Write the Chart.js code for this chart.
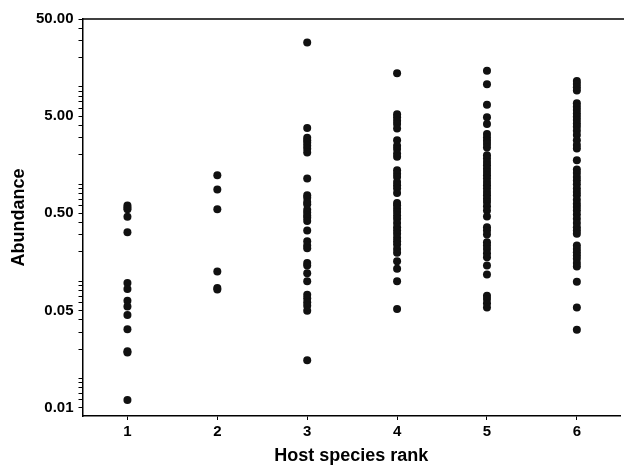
<!DOCTYPE html>
<html>
<head>
<meta charset="utf-8">
<script src="https://cdn.jsdelivr.net/npm/chart.js@4/dist/chart.umd.min.js"></script>
<style>
  html, body { margin: 0; padding: 0; background: #fff; }
  #wrap { width: 624px; height: 465px; }
</style>
</head>
<body>
<div id="wrap"><canvas id="chart"></canvas></div>
<script>
// abundância por posição do hospedeiro
const hostRanks = [1, 2, 3, 4, 5, 6];

const rank1 = [0.6, 0.57, 0.55, 0.46, 0.32, 0.096, 0.083, 0.063, 0.055, 0.045, 0.032, 0.019, 0.0185, 0.006];
const rank2 = [1.23, 0.88, 0.55, 0.126, 0.085, 0.082];
const rank3 = [28.7, 3.77, 3.0, 2.83, 2.66, 2.48, 2.31, 2.11, 1.14, 0.766, 0.725, 0.654, 0.619, 0.545, 0.511,
  0.476, 0.45, 0.416, 0.333, 0.258, 0.233, 0.219, 0.154, 0.145, 0.121, 0.1, 0.0727, 0.0666, 0.0606, 0.056,
  0.0497, 0.0154];
const rank4 = [13.8, 5.22, 4.86, 4.49, 4.15, 3.74, 2.83, 2.48, 2.29, 2.06, 1.91, 1.39, 1.28, 1.18, 1.05, 0.972,
  0.898, 0.81, 0.638, 0.604, 0.558, 0.515, 0.476, 0.44, 0.397, 0.36, 0.333, 0.308, 0.28, 0.258, 0.239, 0.215,
  0.196, 0.161, 0.134, 0.1, 0.0517];
const rank5 = [14.7, 10.65, 6.57, 4.86, 4.15, 3.27, 3.02, 2.79, 2.58, 2.38, 1.98, 1.83, 1.69, 1.56, 1.44, 1.33,
  1.23, 1.14, 1.05, 0.97, 0.9, 0.83, 0.766, 0.708, 0.654, 0.59, 0.536, 0.465, 0.36, 0.333, 0.303, 0.252, 0.233,
  0.215, 0.194, 0.177, 0.145, 0.117, 0.071, 0.0656, 0.0592, 0.0538];
const rank6 = [11.5, 10.7, 9.92, 9.16, 6.78, 6.26, 5.78, 5.34, 4.94, 4.56, 4.21, 3.89, 3.54, 3.19, 2.83, 2.52,
  2.32, 1.76, 1.41, 1.3, 1.18, 1.09, 0.995, 0.898, 0.83, 0.766, 0.69, 0.628, 0.58, 0.536, 0.487, 0.44, 0.397,
  0.36, 0.333, 0.308, 0.233, 0.215, 0.199, 0.184, 0.17, 0.154, 0.142, 0.099, 0.0538, 0.0316];

const yMajorTicks = [0.005, 0.05, 0.5, 5, 50];
const yTickLabels = ['0.01', '0.05', '0.50', '5.00', '50.00'];

const FONT = "'Liberation Sans', Arial, sans-serif";

function buildPoints() {
  const cols = [rank1, rank2, rank3, rank4, rank5, rank6];
  const pts = [];
  cols.forEach((vals, i) => {
    vals.forEach((v) => pts.push({ x: hostRanks[i], y: v }));
  });
  return pts;
}

// ticks menores do eixo log (1..9 x 10^k)
function logMinorTicks(min, max) {
  const out = [];
  for (let k = -3; k <= 2; k++) {
    for (let n = 1; n <= 9; n++) {
      const v = n * Math.pow(10, k);
      if (v >= min && v <= max) out.push({ value: v });
    }
  }
  return out;
}

const topLine = {
  id: 'topLine',
  afterDraw(chart) {
    const { ctx, chartArea } = chart;
    ctx.save();
    ctx.strokeStyle = '#000';
    ctx.lineWidth = 1.5;
    ctx.beginPath();
    ctx.moveTo(chartArea.left, chartArea.top);
    ctx.lineTo(chart.width, chartArea.top);
    ctx.stroke();
    ctx.restore();
  },
};

new Chart(document.getElementById('chart'), {
  type: 'scatter',
  data: {
    datasets: [{
      data: buildPoints(),
      backgroundColor: '#111',
      borderWidth: 0,
      pointRadius: 4,
      pointHoverRadius: 4,
    }],
  },
  options: {
    responsive: true,
    maintainAspectRatio: false,
    animation: false,
    layout: { padding: { top: 19, right: 0, left: 0, bottom: 0 } },
    plugins: { legend: { display: false }, tooltip: { enabled: false } },
    scales: {
      x: {
        type: 'linear',
        min: 0.5,
        max: 6.48,
        afterBuildTicks: (scale) => { scale.ticks = hostRanks.map((v) => ({ value: v })); },
        afterFit: (scale) => { scale.height = 49; },
        border: { color: '#000', width: 1.5 },
        grid: { drawOnChartArea: false, tickLength: 4, color: '#000' },
        ticks: { color: '#000', padding: 3, font: { family: FONT, size: 15, weight: 'bold' } },
        title: {
          display: true,
          text: 'Host species rank',
          color: '#000',
          font: { family: FONT, size: 18, weight: 'bold', lineHeight: 1 },
          padding: { top: 0, bottom: 0 },
        },
      },
      y: {
        type: 'logarithmic',
        min: 0.0041,
        max: 50,
        afterBuildTicks: (scale) => { scale.ticks = logMinorTicks(scale.min, scale.max); },
        afterFit: (scale) => { scale.width = 82.5; },
        border: { color: '#000', width: 1.5 },
        grid: { drawOnChartArea: false, tickLength: 4, color: '#000' },
        ticks: {
          color: '#000',
          padding: 5,
          autoSkip: false,
          font: { family: FONT, size: 15, weight: 'bold' },
          callback: (value) => {
            const i = yMajorTicks.findIndex((t) => Math.abs(t - value) / t < 1e-6);
            return i >= 0 ? yTickLabels[i] : '';
          },
        },
        title: {
          display: true,
          text: 'Abundance',
          color: '#000',
          font: { family: FONT, size: 18, weight: 'bold' },
          padding: { top: 8, bottom: 0 },
        },
      },
    },
  },
  plugins: [topLine],
});
</script>
</body>
</html>
